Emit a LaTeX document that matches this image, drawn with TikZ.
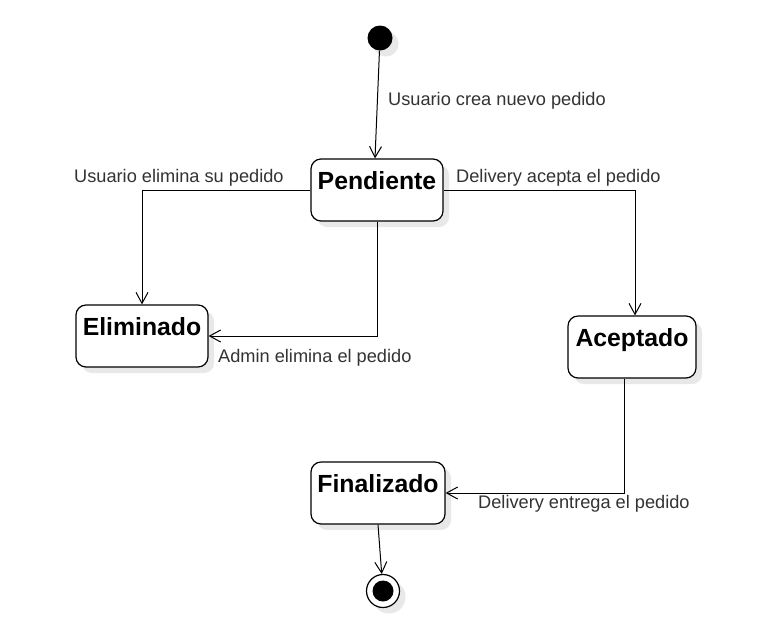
\documentclass[tikz,border=0pt]{standalone}
\usepackage{fontspec}
\setmainfont{Liberation Sans}
\usetikzlibrary{arrows.meta,shadows}
\definecolor{lbl}{HTML}{333333}
\definecolor{shd}{HTML}{E8E8E8}
\begin{document}
\begin{tikzpicture}[x=1pt,y=-1pt,
  shd/.style={drop shadow={shadow xshift=6pt,shadow yshift=-6pt,fill=shd,opacity=1}},
  stbox/.style={draw,line width=1.2pt,rounded corners=10pt,fill=white,shd,
    minimum width=132pt,minimum height=62pt,inner sep=0pt,
    text height=30pt,text depth=32pt,font=\fontsize{24.8}{28}\selectfont\bfseries},
  initst/.style={circle,fill=black,minimum size=25pt,inner sep=0pt,shd},
  endst/.style={circle,draw,line width=1.2pt,fill=white,minimum size=33pt,inner sep=0pt,shd},
  tr/.style={line width=1pt,-{Straight Barb[length=11pt,width=12pt]}},
  lab/.style={text=lbl,font=\fontsize{18.2}{22}\selectfont,inner sep=0pt,anchor=west}]
\useasboundingbox (0,0) rectangle (762,638);
\fill[white] (0,0) rectangle (762,638);
\node[initst] (init) at (380,38) {};
\node[stbox] (pend) at (377,190) {Pendiente};
\node[stbox] (elim) at (142,336) {Eliminado};
\node[stbox,minimum width=128pt] (acep) at (632,347) {Aceptado};
\node[stbox,minimum width=134pt] (fin) at (378,493) {Finalizado};
\node[endst] (final) at (383,591) {};
\fill (final.center) circle (10.5);
\coordinate (accout) at ([xshift=-8pt]acep.south);
\coordinate (accin) at ([xshift=3pt]acep.north);
\coordinate (pendin) at ([xshift=-2pt]pend.north);
\draw[tr] (init) -- (pendin);
\draw[tr] (pend.west) -| (elim.north);
\draw[tr] (pend.south) |- (elim.east);
\draw[tr] (pend.east) -| (accin);
\draw[tr] (accout) |- (fin.east);
\draw[tr] (fin.south) -- (final);
\node[lab] (l1) at (388,101) {Usuario crea nuevo pedido};
\node[lab] (l2) at (74,178) {Usuario elimina su pedido};
\node[lab] (l3) at (456,178) {Delivery acepta el pedido};
\node[lab] (l4) at (218,358) {Admin elimina el pedido};
\node[lab] (l5) at (478,504) {Delivery entrega el pedido};
\end{tikzpicture}
\end{document}
